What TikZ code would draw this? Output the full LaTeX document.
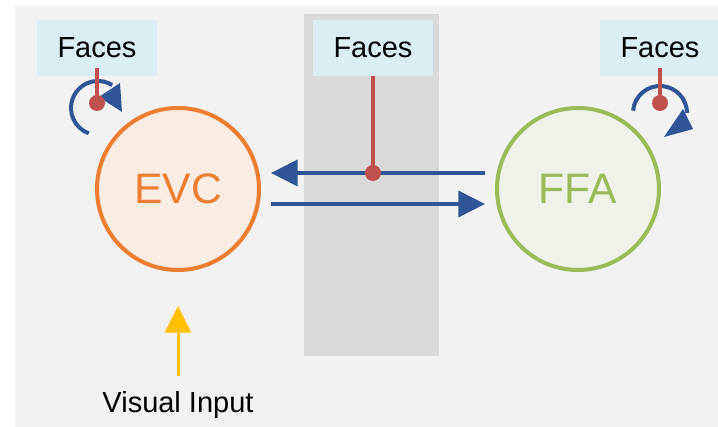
\documentclass[tikz,border=0pt]{standalone}
\usepackage{fontspec}
\setmainfont{Liberation Sans}
\usetikzlibrary{arrows.meta,positioning}
\definecolor{bgc}{HTML}{F2F2F2}
\definecolor{panelc}{HTML}{D9D9D9}
\definecolor{facec}{HTML}{DAEEF3}
\definecolor{evcc}{HTML}{ED7D31}
\definecolor{evcfill}{HTML}{F8ECE3}
\definecolor{ffac}{HTML}{9BBB59}
\definecolor{ffafill}{HTML}{EEF2E8}
\definecolor{linkc}{HTML}{2F5597}
\definecolor{gatec}{HTML}{C0504D}
\definecolor{inputc}{HTML}{FFC000}

\begin{document}
\begin{tikzpicture}[x=0.75pt,y=0.75pt,>={Triangle[length=20pt,width=19.5pt]},
                    node distance=300pt]
  \tikzstyle{faces}=[fill=facec,minimum width=90pt,minimum height=42pt,inner sep=0pt,
                     font=\fontsize{21.75}{26}\selectfont]
  \tikzstyle{area}=[circle,line width=3pt,minimum size=121.5pt,inner sep=0pt,
                    font=\fontsize{32}{38}\selectfont]
  \tikzstyle{link}=[->,linkc,line width=3pt,shorten >=7.5pt,shorten <=7.5pt]
  \tikzstyle{loop}=[linkc,line width=3pt]
  \tikzstyle{gate}=[gatec,line width=3.5pt]

  \useasboundingbox (0,0) rectangle (718,427);
  \fill[bgc] (15,0) rectangle (718,421);
  \fill[panelc] (304,71) rectangle (439,413);

  \node[faces] (facesL) at (97,379) {Faces};
  \node[faces] (facesM) at (373,379) {Faces};
  \node[faces] (facesR) at (660,379) {Faces};

  \node[area,draw=evcc,fill=evcfill,text=evcc] (evc) at (178,238) {EVC};
  \node[area,draw=ffac,fill=ffafill,text=ffac] (ffa) [right of=evc] {FFA};
  \node[anchor=base,inner sep=0pt,font=\fontsize{21.75}{26}\selectfont] (vin) at (178,14) {Visual Input};

  \draw[link] ([yshift=12pt]ffa.west) -- ([yshift=12pt]evc.east);
  \draw[link] ([yshift=-11.25pt]evc.east) -- ([yshift=-11.25pt]ffa.west);
  \draw[->,inputc,line width=2.25pt,shorten <=12pt,shorten >=25.5pt] (vin.north) -- (evc.south);

  \coordinate (loopL) at (98,319);
  \coordinate (loopR) at (660,314);
  \draw[loop] (loopL) ++(250:27) arc[start angle=250,end angle=58,radius=27];
  \fill[linkc] (loopL) ++(22,25) -- ++(2,-29) -- ++(-23,15) -- cycle;
  \draw[loop] (loopR) ++(175:27) arc[start angle=175,end angle=0,radius=27];
  \fill[linkc] (loopR) ++(23,4) -- ++(10,-20) -- ++(-29,-8) -- cycle;

  \coordinate (gateL) at (facesL.south |- 0,324);
  \coordinate (gateM) at (facesM.south |- 0,254);
  \coordinate (gateR) at (facesR.south |- 0,324);
  \draw[gate,shorten <=-6pt] (facesL.south) -- (gateL);
  \draw[gate] (facesM.south) -- (gateM);
  \draw[gate,shorten <=-6pt] (facesR.south) -- (gateR);
  \foreach \g in {gateL,gateM,gateR}
    \fill[gatec] (\g) circle (6pt);
\end{tikzpicture}
\end{document}
